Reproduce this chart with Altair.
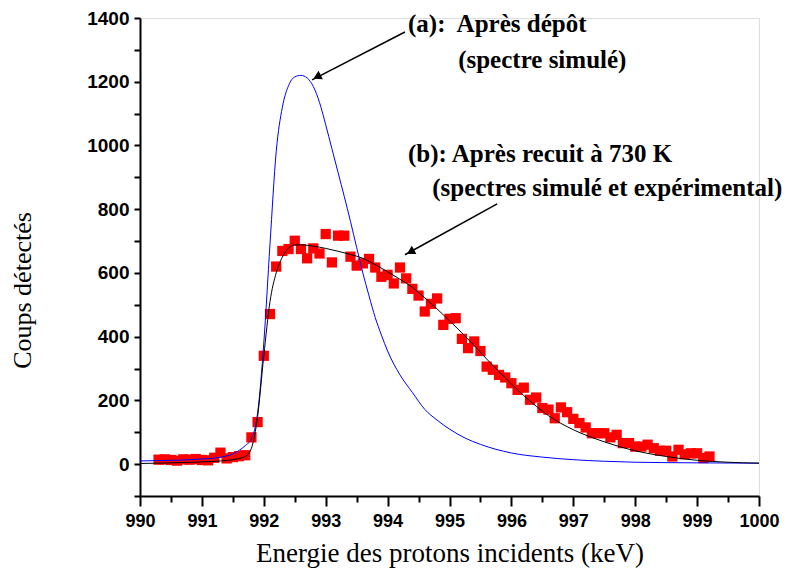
import altair as alt
import pandas as pd

# ---------------- data ----------------
E_pts = [990.3, 990.4, 990.5, 990.6, 990.7, 990.8, 990.9, 991.0, 991.1, 991.2,
         991.3, 991.4, 991.5, 991.6, 991.7, 991.8, 991.9, 992.0, 992.1, 992.2,
         992.3, 992.4, 992.5, 992.6, 992.7, 992.8, 992.9, 993.0, 993.1, 993.2,
         993.3, 993.4, 993.5, 993.6, 993.7, 993.8, 993.9, 994.0, 994.1, 994.2,
         994.3, 994.4, 994.5, 994.6, 994.7, 994.8, 994.9, 995.0, 995.1, 995.2,
         995.3, 995.4, 995.5, 995.6, 995.7, 995.8, 995.9, 996.0, 996.1, 996.2,
         996.3, 996.4, 996.5, 996.6, 996.7, 996.8, 996.9, 997.0, 997.1, 997.2,
         997.3, 997.4, 997.5, 997.6, 997.7, 997.8, 997.9, 998.0, 998.1, 998.2,
         998.3, 998.4, 998.5, 998.6, 998.7, 998.8, 998.9, 999.0, 999.1, 999.2]
C_pts = [14, 15, 13, 11, 15, 14, 16, 13, 12, 20,
         36, 18, 22, 25, 28, 84, 132, 340, 471, 620,
         669, 675, 701, 675, 646, 677, 661, 722, 633, 717,
         717, 651, 623, 630, 644, 617, 588, 594, 567, 617,
         583, 550, 529, 479, 503, 520, 437, 456, 458, 393,
         364, 385, 355, 306, 296, 280, 272, 254, 233, 240,
         202, 209, 176, 171, 144, 178, 163, 142, 129, 115,
         97, 97, 97, 84, 92, 66, 66, 55, 55, 61,
         50, 42, 42, 24, 45, 31, 34, 34, 19, 24]

# (a) simulated spectrum after deposition (blue)
blue_E = [990.0, 990.5, 991.0, 991.3, 991.5, 991.6, 991.7, 991.8, 991.9, 992.0,
          992.1, 992.2, 992.3, 992.4, 992.5, 992.6, 992.7, 992.8, 992.9, 993.0,
          993.1, 993.2, 993.3, 993.4, 993.5, 993.6, 993.7, 993.8, 993.9, 994.0,
          994.2, 994.4, 994.6, 994.8, 995.0, 995.25, 995.5, 996.0, 996.5, 997.0,
          997.5, 998.0, 999.0, 1000.0]
blue_C = [10, 12, 16, 22, 32, 43, 58, 80, 160, 380,
          690, 980, 1120, 1188, 1215, 1220, 1212, 1185, 1135, 1065,
          990, 915, 840, 762, 680, 600, 528, 460, 405, 355,
          280, 225, 172, 138, 110, 82, 62, 35, 22, 14,
          9, 6, 4, 3]

# (b) simulated spectrum after annealing (black)
black_E = [990.0, 990.5, 991.0, 991.3, 991.5, 991.7, 991.8, 991.9, 992.0, 992.1,
           992.2, 992.3, 992.4, 992.5, 992.6, 992.8, 993.0, 993.2, 993.4, 993.6,
           993.8, 994.0, 994.2, 994.4, 994.6, 994.8, 995.0, 995.2, 995.4, 995.6,
           995.8, 996.0, 996.2, 996.4, 996.6, 996.8, 997.0, 997.5, 998.0, 998.5,
           999.0, 999.5, 1000.0]
black_C = [2, 4, 7, 10, 14, 24, 50, 150, 340, 510,
           600, 650, 678, 688, 688, 684, 677, 668, 658, 646,
           626, 604, 580, 555, 522, 487, 450, 412, 372, 330,
           290, 252, 215, 182, 152, 128, 108, 70, 42, 24,
           12, 6, 3]

x_ticks = [990, 990.5, 991, 991.5, 992, 992.5, 993, 993.5, 994, 994.5, 995,
           995.5, 996, 996.5, 997, 997.5, 998, 998.5, 999, 999.5, 1000]
y_ticks = [-100, 0, 100, 200, 300, 400, 500, 600, 700, 800, 900, 1000,
           1100, 1200, 1300, 1400]

ann_text = ["(a):\u00a0 Après dépôt", "(spectre simulé)",
            "(b): Après recuit à 730 K", "(spectres simulé et expérimental)"]
ann_E = [994.33, 995.14, 994.33, 994.72]
ann_C = [1381, 1268, 974, 868]

arrow_E = [994.28, 995.77]
arrow_C = [1356, 817]
arrow_E2 = [992.78, 994.28]
arrow_C2 = [1206, 657]
head_E = [992.86, 994.37]
head_C = [1215, 666]
head_ang = [243, 241]

SERIF = "Liberation Serif"

# ---------------- chart ----------------
pts = pd.DataFrame({"E": E_pts, "C": C_pts})
blue = pd.DataFrame({"E": blue_E, "C": blue_C})
black = pd.DataFrame({"E": black_E, "C": black_C})
ann = pd.DataFrame({"E": ann_E, "C": ann_C, "t": ann_text})
arr = pd.DataFrame({"E": arrow_E, "C": arrow_C, "E2": arrow_E2, "C2": arrow_C2})
heads = pd.DataFrame({"E": head_E, "C": head_C, "a": head_ang})

xs = alt.Scale(domain=[990, 1000], nice=False, zero=False)
ys = alt.Scale(domain=[-100, 1400], nice=False, zero=False)

x_axis = alt.Axis(
    values=x_ticks,
    labelExpr="datum.value % 1 === 0 ? format(datum.value, 'd') : ''",
    tickSize={"condition": {"test": "datum.value % 1 === 0", "value": 10}, "value": 6},
    labelPadding=6, labelFont="Liberation Sans", labelFontWeight="bold",
    labelFontSize=18, labelColor="black", labelOverlap=False, labelFlush=False,
    domainColor="black", domainWidth=2, tickColor="black", tickWidth=2,
    grid=False, titleFont=SERIF, titleFontSize=27,
    titleFontWeight="normal", titleColor="black", titleY=57,
    titleBaseline="middle",
)
y_axis = alt.Axis(
    values=y_ticks,
    labelExpr="datum.value % 200 === 0 ? format(datum.value, 'd') : ''",
    tickSize=6,
    labelPadding=5, labelFont="Liberation Sans", labelFontWeight="bold",
    labelFontSize=19, labelColor="black", labelOverlap=False, labelFlush=False,
    domainColor="black", domainWidth=2, tickColor="black", tickWidth=2,
    grid=False, titleFont=SERIF, titleFontSize=26,
    titleFontWeight="normal", titleColor="black", titleX=-118, titleY=272,
    titleAlign="center", titleBaseline="middle", titleAngle=270,
)

X = alt.X("E:Q", scale=xs, axis=x_axis, title="Energie des protons incidents (keV)")
Y = alt.Y("C:Q", scale=ys, axis=y_axis, title="Coups détectés")
X2 = alt.X2("E2")
Y2 = alt.Y2("C2")

points = alt.Chart(pts).mark_square(size=105, color="#ff0000", opacity=1).encode(x=X, y=Y)
blue_line = alt.Chart(blue).mark_line(color="#0000ff", strokeWidth=1,
                                      interpolate="monotone").encode(x=X, y=Y)
black_line = alt.Chart(black).mark_line(color="black", strokeWidth=1,
                                        interpolate="monotone").encode(x=X, y=Y)
arrows = alt.Chart(arr).mark_rule(color="black", strokeWidth=1.5).encode(
    x=X, y=Y, x2=X2, y2=Y2)
arrowheads = alt.Chart(heads).mark_point(shape="triangle-up", filled=True, color="black",
                                         size=90, opacity=1).encode(
    x=X, y=Y, angle=alt.Angle("a:Q", scale=None))
texts = alt.Chart(ann).mark_text(align="left", baseline="middle", font=SERIF,
                                 fontSize=25, fontWeight="bold", color="black").encode(
    x=X, y=Y, text="t:N")

chart = alt.layer(points, blue_line, black_line, arrows, arrowheads, texts).properties(
    width=619, height=478,
    autosize=alt.AutoSizeParams(type="none"),
    padding={"left": 132, "top": 10, "right": 42, "bottom": 72},
).configure_view(stroke=None).configure(background="white").configure_text(font=SERIF)

chart.save("out.html", embed_options={"renderer": "svg", "actions": False})
